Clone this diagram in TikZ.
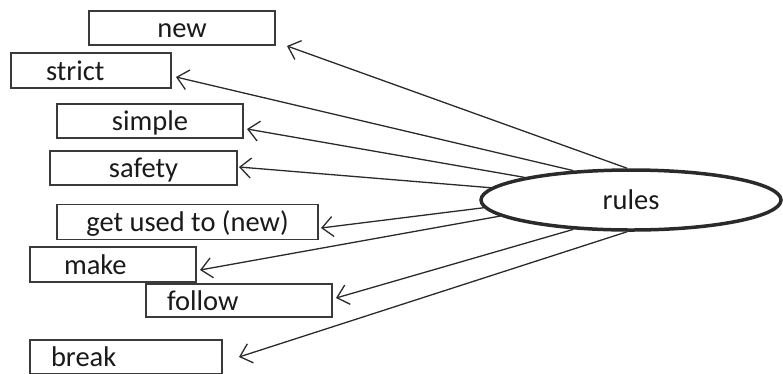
\documentclass[tikz,border=0pt]{standalone}
\usepackage{fontspec}
\setmainfont{Carlito}
\usetikzlibrary{arrows.meta,shapes.geometric}
\definecolor{linec}{HTML}{2A2A2A}
\definecolor{boxc}{HTML}{3A3A3A}
\definecolor{txt}{HTML}{1A1A1A}
\begin{document}
\begin{tikzpicture}[x=1pt,y=-1pt,
  box/.style={draw=boxc, line width=1.1pt, rectangle, inner sep=0pt,
    minimum height=34pt, text height=23pt, text depth=4pt,
    font=\fontsize{28.5}{33}\selectfont, text=txt},
  arr/.style={draw=linec, line width=1.3pt, -{Straight Barb[length=11pt,width=20pt]}}]
\useasboundingbox (0,0) rectangle (783,373);
\node[box, minimum width=186pt] (b1) at (182,28) {new};
\node[box, text width=90pt, inner xsep=35pt, align=left, minimum height=35pt] (b2) at (91,70.5) {strict};
\node[box, minimum width=186pt] (b3) at (150,121) {simple};
\node[box, minimum width=187pt] (b4) at (143.5,168) {safety};
\node[box, minimum width=261pt, minimum height=35pt] (b5) at (187.5,222) {get used to (new)};
\node[box, text width=98pt, inner xsep=34pt, align=left, minimum height=35pt] (b6) at (113,264.5) {make};
\node[box, text width=144pt, inner xsep=21pt, align=left, minimum height=33pt] (b7) at (239,300.5) {follow};
\node[box, text width=150pt, inner xsep=21pt, align=left] (b8) at (126,357) {break};
\node[ellipse, draw=linec, line width=3.5pt, minimum width=300pt, minimum height=60pt,
  inner sep=0pt, font=\fontsize{28.5}{33}\selectfont, text=txt] (rules) at (631,200) {rules};
\coordinate (t1) at (287,46);
\coordinate (t2) at (176,77);
\coordinate (t3) at (247,129);
\coordinate (t4) at (239,167);
\coordinate (t5) at (321,228);
\coordinate (t6) at (200,270);
\coordinate (t7) at (336,298);
\coordinate (t8) at (239,357);
\draw[arr] (rules.97) -- (t1);
\draw[arr] (rules.153.8) -- (t2);
\draw[arr] (rules.168.6) -- (t3);
\draw[arr] (rules.175) -- (t4);
\draw[arr] (rules.183.9) -- (t5);
\draw[arr] (rules.187.2) -- (t6);
\draw[arr] (rules.207.4) -- (t7);
\draw[arr] (rules.263) -- (t8);
\end{tikzpicture}
\end{document}
